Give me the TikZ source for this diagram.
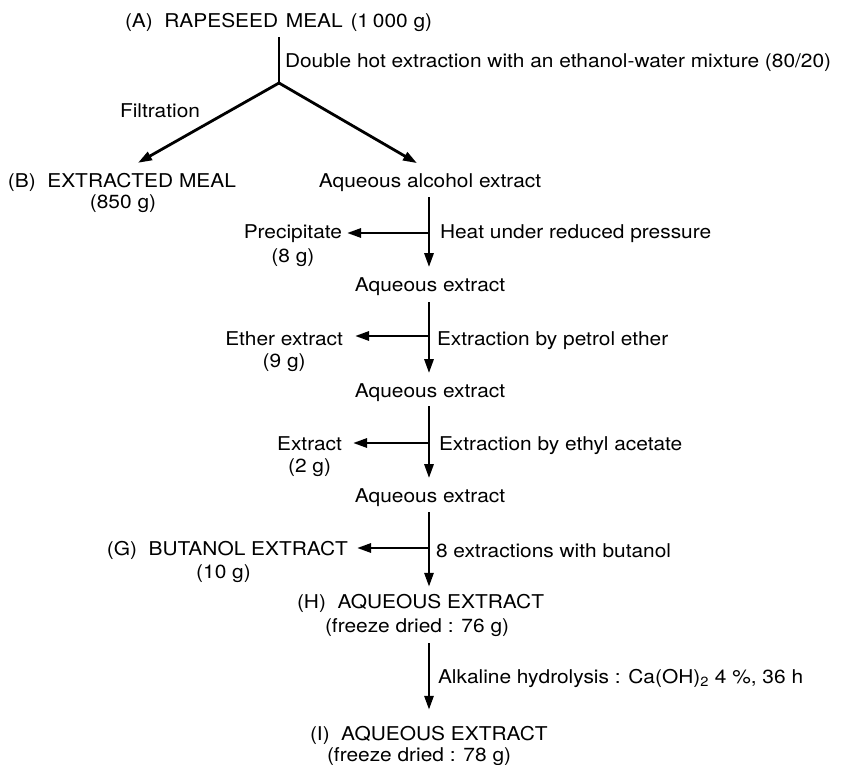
\documentclass[tikz,border=0pt]{standalone}
\usepackage{fontspec}
\setmainfont[FakeStretch=1.1]{TeX Gyre Heros}
\usetikzlibrary{arrows.meta}
\begin{document}
\begin{tikzpicture}[x=1pt,y=-1pt,
  txt/.style={inner sep=0pt, outer sep=0pt, font=\fontsize{19}{22}\selectfont},
  flow/.style={line width=2.8pt, -{Triangle[length=14pt,width=9pt]}},
  plainline/.style={line width=2.8pt}]
\useasboundingbox (0,0) rectangle (863,765);

% column and junctions
\coordinate (col) at (429,0);
\coordinate (split) at (279,83);
\coordinate (j1) at (429,233);
\coordinate (j2) at (429,336);
\coordinate (j3) at (429,443);
\coordinate (j4) at (429,548);

% top
\node[txt, anchor=base west] (A) at (125,28) {(A)\hspace{0.3em} RAPESEED\hspace{0.1em} MEAL\hspace{0.1em} (1\hspace{0.2em}000 g)};
\node[txt, anchor=base west] (dbl) at (285,68) {Double hot extraction with an ethanol-water mixture (80/20)};
\node[txt, anchor=base west] (filt) at (120,118) {Filtration};
\node[txt, anchor=base west] (B) at (8,188) {(B)\hspace{0.3em} EXTRACTED MEAL};
\node[txt, anchor=base] (B2) at (123,208) {(850 g)};
\node[txt, anchor=base] (AAE) at (430,188) {Aqueous alcohol extract};

\draw[plainline] ([yshift=-5pt]A.south -| split) -- (split);
\draw[flow] (split) -- ([xshift=16pt,yshift=11pt]B.north);
\draw[flow] (split) -- ([xshift=-13pt,yshift=11pt]AAE.north);

% main column
\node[txt, anchor=base] (AQ1) at (430,291) {Aqueous extract};
\node[txt, anchor=base] (AQ2) at (430,397) {Aqueous extract};
\node[txt, anchor=base] (AQ3) at (430,502) {Aqueous extract};
\node[txt, anchor=base west] (H) at (297,608) {(H)\hspace{0.3em} AQUEOUS EXTRACT};
\node[txt, anchor=base west] (H2) at (325,632) {(freeze dried : 76 g)};
\node[txt, anchor=base west] (I) at (310,740) {(I)\hspace{0.3em} AQUEOUS EXTRACT};
\node[txt, anchor=base west] (I2) at (327,761) {(freeze dried : 78 g)};

\draw[flow] ([yshift=-5pt]AAE.south -| col) -- ([yshift=10pt]AQ1.north -| col);
\draw[flow] ([yshift=-7pt]AQ1.south -| col) -- ([yshift=10pt]AQ2.north -| col);
\draw[flow] ([yshift=-5pt]AQ2.south -| col) -- ([yshift=10pt]AQ3.north -| col);
\draw[flow] ([yshift=-6pt]AQ3.south -| col) -- ([yshift=7pt]H.north -| col);
\draw[flow] ([yshift=-7pt]H2.south -| col) -- ([yshift=16pt]I.north -| col);

% step labels (right)
\node[txt, anchor=base west] (s1) at (440,238) {Heat under reduced pressure};
\node[txt, anchor=base west] (s2) at (437,345) {Extraction by petrol ether};
\node[txt, anchor=base west] (s3) at (439,450) {Extraction by ethyl acetate};
\node[txt, anchor=base west] (s4) at (436,557) {8 extractions with butanol};
\node[txt, anchor=base west] (s5) at (438,683) {Alkaline hydrolysis : Ca(OH)\textsubscript{2} 4 \%, 36 h};

% side products (left)
\node[txt, anchor=base east] (P) at (342,239) {Precipitate};
\node[txt, anchor=base] (P2) at ([yshift=-23pt]P.base) {(8 g)};
\node[txt, anchor=base east] (E) at (343,345) {Ether extract};
\node[txt, anchor=base] (E2) at ([yshift=-22pt]E.base) {(9 g)};
\node[txt, anchor=base east] (X) at (342,450) {Extract};
\node[txt, anchor=base] (X2) at ([yshift=-22pt]X.base) {(2 g)};
\node[txt, anchor=base east] (G) at (348,555) {(G)\hspace{0.3em} BUTANOL EXTRACT};
\node[txt, anchor=base] (G2) at ([xshift=-4pt,yshift=-23pt]G.base) {(10 g)};

\draw[flow] (j1) -- ([xshift=5pt]P.east |- j1);
\draw[flow] (j2) -- ([xshift=12pt]E.east |- j2);
\draw[flow] (j3) -- ([xshift=11pt]X.east |- j3);
\draw[flow] (j4) -- ([xshift=9pt]G.east |- j4);
\end{tikzpicture}
\end{document}
